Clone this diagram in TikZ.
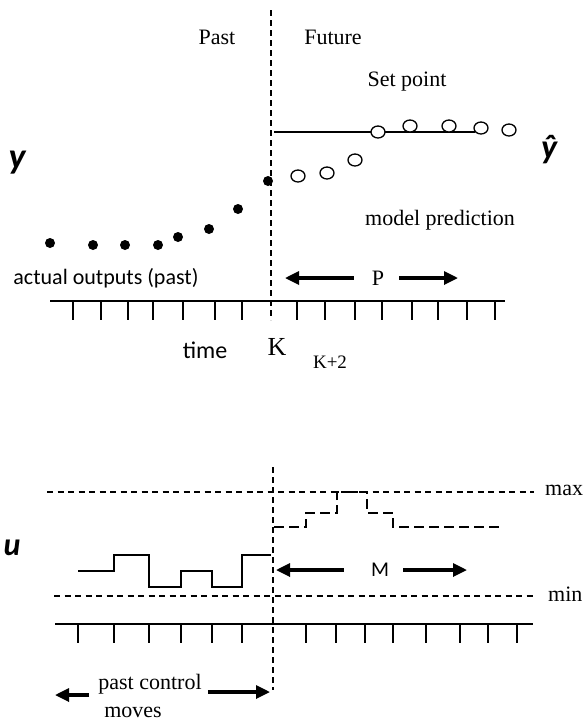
\documentclass[tikz,border=0pt]{standalone}
\usepackage{fontspec}
\setmainfont{Liberation Serif}
\newfontfamily\sansf{Carlito}
\usetikzlibrary{arrows.meta,shapes.geometric}
\begin{document}
\begin{tikzpicture}[x=1pt,y=-1pt,
  serif/.style={font=\fontsize{22}{22}\selectfont, inner sep=0pt},
  sans/.style={font=\sansf\fontsize{22}{22}\selectfont, inner sep=0pt},
  axislbl/.style={font=\sansf\bfseries\itshape\fontsize{36}{36}\selectfont, inner sep=0pt},
  vdash/.style={dash pattern=on 6pt off 4pt, line width=1.1pt},
  hdash/.style={dash pattern=on 6pt off 4.5pt, line width=1.1pt},
  pdash/.style={dash pattern=on 10pt off 5pt, line width=1.2pt},
  solidline/.style={line width=1.4pt},
  arr/.style={-{Triangle[length=14pt,width=13pt]}, line width=3.2pt},
  fdot/.style={circle, fill=black, inner sep=0pt, minimum size=10pt},
  odot/.style={ellipse, draw=black, line width=1.3pt, inner sep=0pt, minimum width=14pt, minimum height=12pt},
  tick/.style={line width=1.3pt}]
\useasboundingbox (0,0) rectangle (584,724);

% ---------- top plot ----------
\coordinate (vt1) at (271,10);
\coordinate (vt2) at (271,320);
\draw[vdash] (vt1) -- (vt2);

\node[serif] (past) at (217,37) {Past};
\node[serif] (future) at (333,37) {Future};
\node[serif] (setpoint) at (407,82) {Set point};
\node[serif] (modelpred) at (440,220) {model prediction};

\coordinate (sp1) at (274,132);
\coordinate (sp2) at (475,132);
\draw[solidline] (sp1) -- (sp2);

\node[axislbl] (ylbl) at (17,163) {y};
\node[axislbl, font=\sansf\itshape\bfseries\fontsize{34}{34}\selectfont] (yhat) at (549,150) {ŷ};

\foreach \i/\x/\y in {1/50/243,2/93/245,3/125/245,4/158/245,5/178/237,6/209/229,7/238/209,8/268/181}
  \node[fdot] (d\i) at (\x,\y) {};
\foreach \i/\x/\y in {1/298/176,2/327/173,3/355/160,4/378/132,5/410/126,6/449/126,7/481/128,8/509/130}
  \node[odot, fill=white] (o\i) at (\x,\y) {};

\node[sans] (actual) at (106,278) {actual outputs (past)};
\node[serif, font=\fontsize{22}{22}\selectfont] (P) at (378,278) {P};
\coordinate (pl) at (285,278);
\coordinate (pr) at (458,278);
\draw[arr] ([xshift=-18pt]P.west) -- (pl);
\draw[arr] ([xshift=15pt]P.east) -- (pr);

\coordinate (ax1) at (50,301);
\coordinate (ax2) at (505,301);
\draw[solidline] (ax1) -- (ax2);
\foreach \x in {73,101,128,153,183,215,242,297,325,355,382,412,438,467,495}
  \draw[tick] (\x,301) -- (\x,320);

\node[sans, font=\sansf\fontsize{24}{24}\selectfont] (time) at (205,350) {time};
\node[serif, font=\fontsize{26}{26}\selectfont] (K) at (277,347) {K};
\node[serif, font=\fontsize{19}{19}\selectfont] (K2) at (330,362) {K+2};

% ---------- bottom plot ----------
\coordinate (vb1) at (273,467);
\coordinate (vb2) at (273,690);
\draw[vdash] (vb1) -- (vb2);

\coordinate (mx1) at (47,492);
\coordinate (mx2) at (534,492);
\draw[hdash] (mx1) -- (mx2);
\node[serif, anchor=west] (max) at (545,490) {max};

\coordinate (mn1) at (54,596);
\coordinate (mn2) at (536,596);
\draw[hdash] (mn1) -- (mn2);
\node[serif, anchor=west] (min) at (548,594) {min};

\node[axislbl, font=\sansf\bfseries\itshape\fontsize{32}{32}\selectfont] (ulbl) at (12,548) {u};

\draw[solidline] (78,571) -- (114,571) -- (114,555) -- (149,555) -- (149,587)
  -- (181,587) -- (181,571) -- (212,571) -- (212,587) -- (242,587) -- (242,555) -- (271,555);

\draw[pdash] (274,527) -- (306,527) -- (306,513) -- (337,513) -- (337,492) -- (367,492)
  -- (367,513) -- (393,513) -- (393,527) -- (503,527);

\node[sans, font=\sansf\fontsize{21}{21}\selectfont] (M) at (380,570) {M};
\coordinate (ml) at (276,570);
\coordinate (mr) at (467,570);
\draw[arr] ([xshift=-27pt]M.west) -- (ml);
\draw[arr] ([xshift=14pt]M.east) -- (mr);

\coordinate (bx1) at (55,624);
\coordinate (bx2) at (533,624);
\draw[solidline] (bx1) -- (bx2);
\foreach \x in {78,114,149,181,212,242,306,336,365,393,426,460,488,517}
  \draw[tick] (\x,624) -- (\x,643);

\node[serif] (pastctrl) at (150,684) {past control};
\node[serif] (moves) at (133,712) {moves};
\coordinate (pcl) at (55,695);
\coordinate (pcr) at (270,692);
\draw[arr] ([xshift=-9pt]pastctrl.west |- pcl) -- (pcl);
\draw[arr] ([xshift=6pt]pastctrl.east |- pcr) -- (pcr);
\end{tikzpicture}
\end{document}
